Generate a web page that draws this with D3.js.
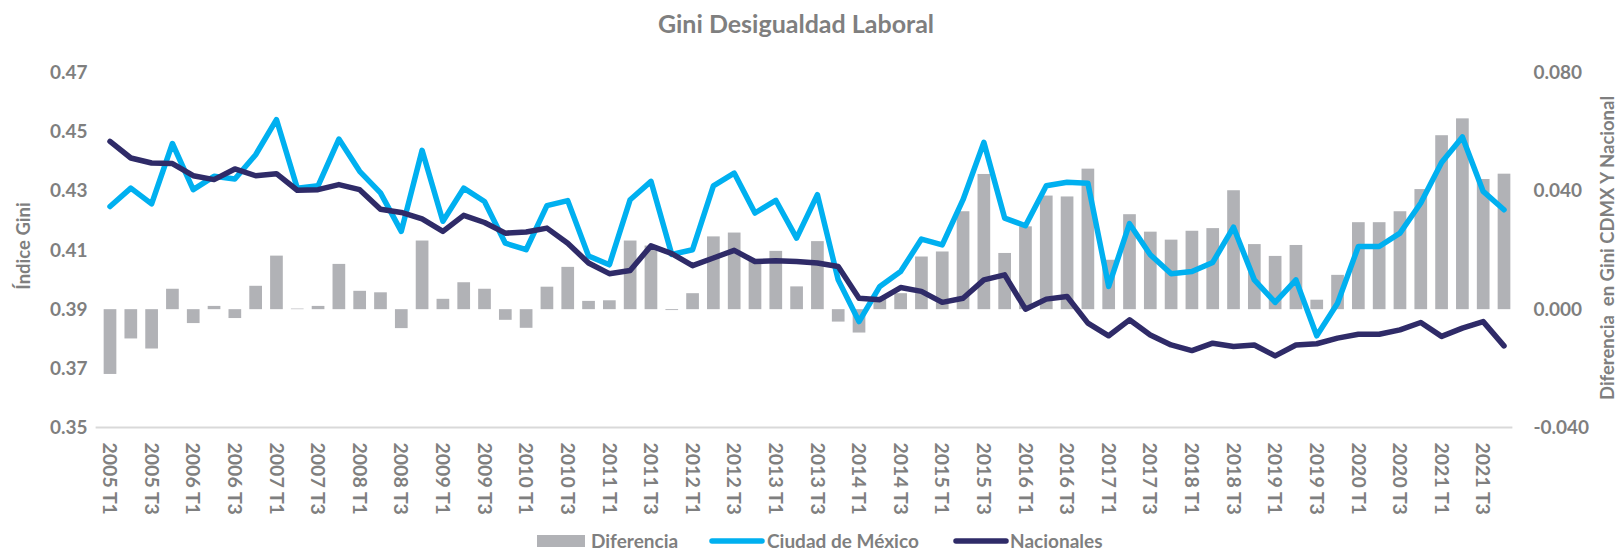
<!DOCTYPE html>
<html>
<head>
<meta charset="utf-8">
<script src="https://cdn.jsdelivr.net/npm/d3@7"></script>
<style>
  body { margin: 0; background: #fff; }
  text { font-family: Lato, "Open Sans", sans-serif; font-weight: bold; fill: #7f7f7f; }
</style>
</head>
<body>
<svg id="chart"></svg>
<script>
const width = 1621;
const height = 555;

// Quarters 2005 T1 .. 2021 T4
const years = d3.range(2005, 2022);
const quarters = years.flatMap(y => ["T1", "T2", "T3", "T4"].map(q => y + " " + q));

// Ciudad de México Gini
const cdmx = [
  0.4247, 0.4309, 0.4256, 0.4460, 0.4304, 0.4349, 0.4340, 0.4422, 0.4541, 0.4309,
  0.4317, 0.4475, 0.4366, 0.4293, 0.4163, 0.4437, 0.4197, 0.4309, 0.4264, 0.4123,
  0.4101, 0.4250, 0.4267, 0.4080, 0.4050, 0.4270, 0.4332, 0.4085, 0.4101, 0.4317,
  0.4360, 0.4225, 0.4268, 0.4140, 0.4287, 0.3999, 0.3858, 0.3977, 0.4027, 0.4137,
  0.4117, 0.4270, 0.4464, 0.4208, 0.4182, 0.4317, 0.4329, 0.4326, 0.3977, 0.4189,
  0.4084, 0.4020, 0.4027, 0.4058, 0.4177, 0.3999, 0.3923, 0.3999, 0.3810, 0.3920,
  0.4112, 0.4112, 0.4157, 0.4259, 0.4396, 0.4482, 0.4298, 0.4236
];

// Nacional Gini
const nacional = [
  0.4467, 0.4411, 0.4394, 0.4392, 0.4351, 0.4338, 0.4374, 0.4351, 0.4358, 0.4302,
  0.4304, 0.4321, 0.4304, 0.4238, 0.4227, 0.4205, 0.4163, 0.4217, 0.4193, 0.4157,
  0.4161, 0.4174, 0.4123, 0.4056, 0.4020, 0.4031, 0.4114, 0.4088, 0.4047, 0.4073,
  0.4099, 0.4061, 0.4064, 0.4061, 0.4056, 0.4044, 0.3937, 0.3932, 0.3973, 0.3960,
  0.3923, 0.3937, 0.3999, 0.4016, 0.3900, 0.3934, 0.3943, 0.3853, 0.3810, 0.3864,
  0.3813, 0.3779, 0.3760, 0.3785, 0.3774, 0.3779, 0.3742, 0.3779, 0.3783, 0.3802,
  0.3815, 0.3815, 0.3830, 0.3855, 0.3808, 0.3836, 0.3858, 0.3776
];

// Diferencia CDMX - Nacional (right axis)
const diferencia = [
  -0.0219, -0.0099, -0.0133, 0.0069, -0.0047, 0.0011, -0.0030, 0.0079, 0.0181, 0.0002,
  0.0011, 0.0153, 0.0062, 0.0057, -0.0064, 0.0232, 0.0035, 0.0091, 0.0069, -0.0036,
  -0.0063, 0.0076, 0.0143, 0.0028, 0.0030, 0.0232, 0.0215, -0.0003, 0.0054, 0.0246,
  0.0259, 0.0165, 0.0197, 0.0077, 0.0230, -0.0042, -0.0079, 0.0042, 0.0054, 0.0178,
  0.0195, 0.0331, 0.0457, 0.0190, 0.0280, 0.0384, 0.0381, 0.0475, 0.0167, 0.0321,
  0.0262, 0.0235, 0.0265, 0.0274, 0.0402, 0.0220, 0.0180, 0.0217, 0.0032, 0.0116,
  0.0294, 0.0294, 0.0331, 0.0406, 0.0588, 0.0645, 0.0440, 0.0458
];

const leftTicks = [0.35, 0.37, 0.39, 0.41, 0.43, 0.45, 0.47];
const rightTicks = [-0.04, 0.0, 0.04, 0.08];

const colors = { bar: "#b1b2b6", cdmx: "#00b0f0", nacional: "#2f2b68" };

const margin = { top: 72.5, right: 106.6, bottom: 127.5, left: 99.6 };
const plotW = width - margin.left - margin.right;
const plotH = height - margin.top - margin.bottom;

const svg = d3.select("#chart").attr("width", width).attr("height", height);

const x = d3.scaleBand().domain(quarters).range([margin.left, margin.left + plotW]).paddingInner(0.39).paddingOuter(0.195);
const yL = d3.scaleLinear().domain([0.35, 0.47]).range([margin.top + plotH, margin.top]);
const yR = d3.scaleLinear().domain([-0.04, 0.08]).range([margin.top + plotH, margin.top]);

// Title
svg.append("text")
    .attr("x", 796).attr("y", 33)
    .attr("text-anchor", "middle")
    .style("font-size", "25px")
    .text("Gini Desigualdad Laboral");

// Bars
svg.append("g").selectAll("rect")
    .data(diferencia)
    .join("rect")
    .attr("x", (d, i) => x(quarters[i]))
    .attr("width", x.bandwidth())
    .attr("y", d => yR(Math.max(0, d)))
    .attr("height", d => Math.abs(yR(d) - yR(0)))
    .attr("fill", colors.bar);

// Bottom axis line
svg.append("line")
    .attr("x1", margin.left - 4).attr("x2", margin.left + plotW - 2)
    .attr("y1", yL(0.35)).attr("y2", yL(0.35))
    .attr("stroke", "#d9d9d9").attr("stroke-width", 2);

// Lines
const lineGen = d3.line()
    .x((d, i) => x(quarters[i]) + x.bandwidth() / 2)
    .y(d => yL(d));

svg.append("path").datum(cdmx)
    .attr("d", lineGen)
    .attr("fill", "none").attr("stroke", colors.cdmx)
    .attr("stroke-width", 5.5).attr("stroke-linejoin", "round").attr("stroke-linecap", "round");

svg.append("path").datum(nacional)
    .attr("d", lineGen)
    .attr("fill", "none").attr("stroke", colors.nacional)
    .attr("stroke-width", 5.5).attr("stroke-linejoin", "round").attr("stroke-linecap", "round");

// Left axis
const axL = svg.append("g")
    .attr("transform", `translate(${margin.left - 12},0)`)
    .call(d3.axisLeft(yL).tickValues(leftTicks).tickFormat(d => d.toFixed(2)).tickSize(0).tickPadding(0));
axL.select(".domain").remove();
axL.selectAll("text").style("font-size", "19px");

// Right axis
const axR = svg.append("g")
    .attr("transform", `translate(${margin.left + plotW + 19},0)`)
    .call(d3.axisRight(yR).tickValues(rightTicks).tickFormat(d => d.toFixed(3)).tickSize(0).tickPadding(0));
axR.select(".domain").remove();
axR.selectAll("text").style("font-size", "19px");

// X labels (every other quarter)
svg.append("g").selectAll("text")
    .data(quarters.filter((q, i) => i % 2 === 0))
    .join("text")
    .attr("transform", d => `translate(${x(d) + x.bandwidth() / 2},${yL(0.35) + 15}) rotate(90)`)
    .attr("dy", "0.35em")
    .attr("text-anchor", "start")
    .style("font-size", "19.5px")
    .text(d => d);

// Axis titles
svg.append("text")
    .attr("transform", `translate(24,${margin.top + plotH / 2 - 4}) rotate(-90)`)
    .attr("text-anchor", "middle")
    .attr("dy", "0.35em")
    .style("font-size", "18.5px")
    .text("Índice Gini");

svg.append("text")
    .attr("transform", `translate(1608,${margin.top + plotH / 2 - 2}) rotate(-90)`)
    .attr("text-anchor", "middle")
    .attr("dy", "0.35em")
    .style("font-size", "18.5px")
    .style("white-space", "pre")
    .text("Diferencia  en Gini CDMX Y Nacional");

// Legend
const legend = svg.append("g").attr("transform", "translate(0,541)");
legend.append("rect").attr("x", 537).attr("y", -6).attr("width", 48).attr("height", 12).attr("fill", colors.bar);
legend.append("text").attr("x", 591).attr("dy", "0.35em").style("font-size", "19px").text("Diferencia");
legend.append("line").attr("x1", 712).attr("x2", 762).attr("stroke", colors.cdmx)
    .attr("stroke-width", 5.5).attr("stroke-linecap", "round");
legend.append("text").attr("x", 767).attr("dy", "0.35em").style("font-size", "19px").text("Ciudad de México");
legend.append("line").attr("x1", 956).attr("x2", 1006).attr("stroke", colors.nacional)
    .attr("stroke-width", 5.5).attr("stroke-linecap", "round");
legend.append("text").attr("x", 1010).attr("dy", "0.35em").style("font-size", "19px").text("Nacionales");
</script>
</body>
</html>
